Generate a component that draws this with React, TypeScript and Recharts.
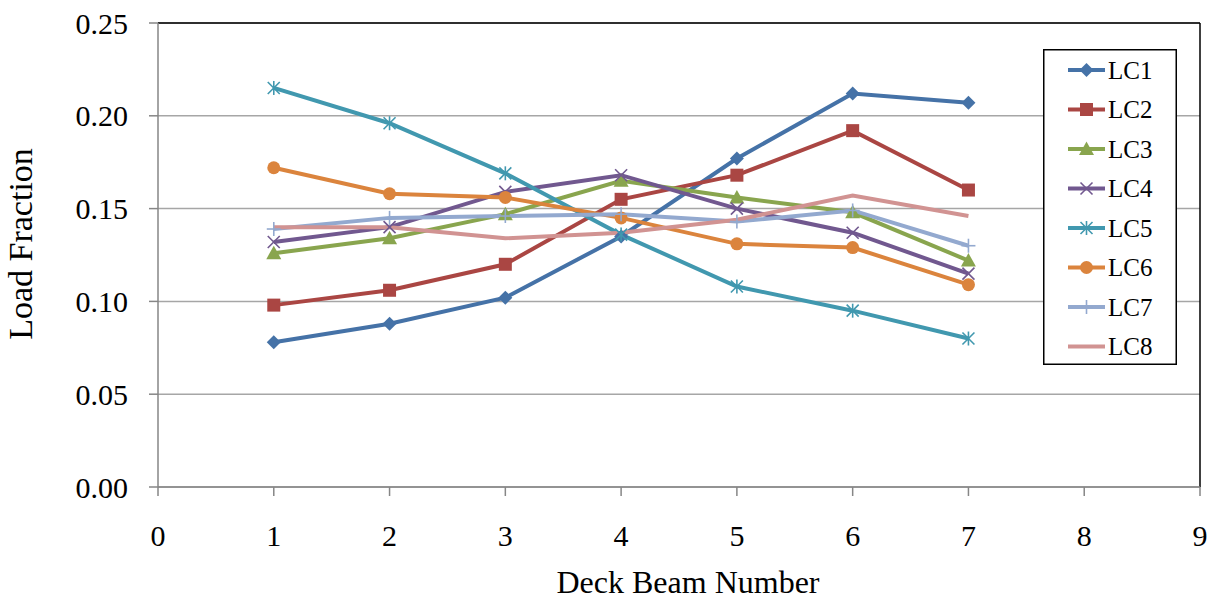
import React from 'react';
import { LineChart, Line, XAxis, YAxis, CartesianGrid, ReferenceLine } from 'recharts';

const beams = [1, 2, 3, 4, 5, 6, 7];
const lc1 = [0.078, 0.088, 0.102, 0.135, 0.177, 0.212, 0.207];
const lc2 = [0.098, 0.106, 0.120, 0.155, 0.168, 0.192, 0.160];
const lc3 = [0.126, 0.134, 0.147, 0.165, 0.156, 0.148, 0.122];
const lc4 = [0.132, 0.140, 0.159, 0.168, 0.150, 0.137, 0.115];
const lc5 = [0.215, 0.196, 0.169, 0.136, 0.108, 0.095, 0.080];
const lc6 = [0.172, 0.158, 0.156, 0.145, 0.131, 0.129, 0.109];
const lc7 = [0.139, 0.145, 0.146, 0.147, 0.143, 0.149, 0.130];
const lc8 = [0.140, 0.140, 0.134, 0.137, 0.144, 0.157, 0.146];

const seriesNames = ['LC1', 'LC2', 'LC3', 'LC4', 'LC5', 'LC6', 'LC7', 'LC8'];
const seriesValues = [lc1, lc2, lc3, lc4, lc5, lc6, lc7, lc8];
const seriesColors = ['#4572A7', '#AA4643', '#89A54E', '#71588F', '#4198AF', '#DB843D', '#93A9CF', '#D19392'];
const seriesMarkers = ['diamond', 'square', 'triangle', 'x', 'star', 'circle', 'plus', 'none'];

const xTicks = [0, 1, 2, 3, 4, 5, 6, 7, 8, 9];
const yTicks = [0, 0.05, 0.1, 0.15, 0.2, 0.25];

const data = beams.map((b, i) => {
  const row: any = { beam: b };
  seriesNames.forEach((n, k) => { row[n] = seriesValues[k][i]; });
  return row;
});

const FONT = '"Liberation Serif", "Times New Roman", serif';

function Marker({ type, cx, cy, color }: { type: string; cx: number; cy: number; color: string }) {
  if (cx == null || cy == null) return null;
  switch (type) {
    case 'diamond':
      return <polygon points={`${cx},${cy - 7} ${cx + 7},${cy} ${cx},${cy + 7} ${cx - 7},${cy}`} fill={color} />;
    case 'square':
      return <rect x={cx - 6.5} y={cy - 6.5} width={13} height={13} fill={color} />;
    case 'triangle':
      return <polygon points={`${cx},${cy - 7.5} ${cx + 7.5},${cy + 6} ${cx - 7.5},${cy + 6}`} fill={color} />;
    case 'x':
      return (
        <g stroke={color} strokeWidth={1.6}>
          <line x1={cx - 6} y1={cy - 6} x2={cx + 6} y2={cy + 6} />
          <line x1={cx - 6} y1={cy + 6} x2={cx + 6} y2={cy - 6} />
        </g>
      );
    case 'star':
      return (
        <g stroke={color} strokeWidth={1.6}>
          <line x1={cx - 6} y1={cy - 6} x2={cx + 6} y2={cy + 6} />
          <line x1={cx - 6} y1={cy + 6} x2={cx + 6} y2={cy - 6} />
          <line x1={cx} y1={cy - 7} x2={cx} y2={cy + 7} />
        </g>
      );
    case 'circle':
      return <circle cx={cx} cy={cy} r={6.5} fill={color} />;
    case 'plus':
      return (
        <g stroke={color} strokeWidth={1.6}>
          <line x1={cx} y1={cy - 7} x2={cx} y2={cy + 7} />
          <line x1={cx - 7} y1={cy} x2={cx + 7} y2={cy} />
        </g>
      );
    default:
      return null;
  }
}

const makeDot = (type: string, color: string) => (props: any) => (
  <Marker key={`${type}-${props.index}`} type={type} cx={props.cx} cy={props.cy} color={color} />
);

function LegendBox() {
  const w = 134;
  const h = 316;
  return (
    <svg width={w} height={h} style={{ display: 'block' }}>
      <rect x={0.75} y={0.75} width={w - 1.5} height={h - 1.5} fill="#fff" stroke="#000" strokeWidth={1.5} />
      {seriesNames.map((n, i) => {
        const y = 21 + i * 39.5;
        return (
          <g key={n}>
            <line x1={25} y1={y} x2={62} y2={y} stroke={seriesColors[i]} strokeWidth={4} />
            <Marker type={seriesMarkers[i]} cx={43.5} cy={y} color={seriesColors[i]} />
            <text x={65} y={y} dy="0.35em" fontFamily={FONT} fontSize={25} fill="#000">{n}</text>
          </g>
        );
      })}
    </svg>
  );
}

const XTick = (props: any) => {
  const { x, payload } = props;
  return (
    <text x={x} y={546} textAnchor="middle" fontFamily={FONT} fontSize={30} fill="#000">{payload.value}</text>
  );
};

const YTick = (props: any) => {
  const { y, payload } = props;
  return (
    <text x={128} y={y} dy="0.35em" textAnchor="end" fontFamily={FONT} fontSize={30} fill="#000">
      {Number(payload.value).toFixed(2)}
    </text>
  );
};

export default function App() {
  return (
    <div style={{ position: 'absolute', left: 0, top: 0, width: 1217, height: 600, background: '#fff' }}>
      <LineChart width={1217} height={600} data={data} margin={{ top: 23, right: 17, left: 0, bottom: 0 }}>
        <CartesianGrid horizontal vertical={false} stroke="#A6A6A6" strokeWidth={1.5} />
        <XAxis
          dataKey="beam"
          type="number"
          domain={[0, 9]}
          ticks={xTicks}
          height={113}
          tick={<XTick />}
          tickSize={9}
          axisLine={{ stroke: '#868686', strokeWidth: 1.5 }}
          tickLine={{ stroke: '#868686', strokeWidth: 1.5 }}
          label={{
            content: () => (
              <text x={688} y={593} textAnchor="middle" fontFamily={FONT} fontSize={32} fill="#000">Deck Beam Number</text>
            ),
          }}
        />
        <YAxis
          type="number"
          domain={[0, 0.25]}
          ticks={yTicks}
          width={158}
          tick={<YTick />}
          tickSize={9}
          axisLine={{ stroke: '#868686', strokeWidth: 1.5 }}
          tickLine={{ stroke: '#868686', strokeWidth: 1.5 }}
          label={{
            content: () => (
              <text x={0} y={0} transform="translate(32,244) rotate(-90)" textAnchor="middle" fontFamily={FONT} fontSize={34} fill="#000">Load Fraction</text>
            ),
          }}
        />
        <ReferenceLine y={0.25} stroke="#000" strokeWidth={1.5} />
        <ReferenceLine x={9} stroke="#000" strokeWidth={1.5} />
        {seriesNames.map((n, i) => (
          <Line
            key={n}
            dataKey={n}
            name={n}
            type="linear"
            stroke={seriesColors[i]}
            strokeWidth={4}
            dot={makeDot(seriesMarkers[i], seriesColors[i])}
            activeDot={false}
            isAnimationActive={false}
          />
        ))}
      </LineChart>
      <div style={{ position: 'absolute', left: 1043, top: 49 }}>
        <LegendBox />
      </div>
    </div>
  );
}
